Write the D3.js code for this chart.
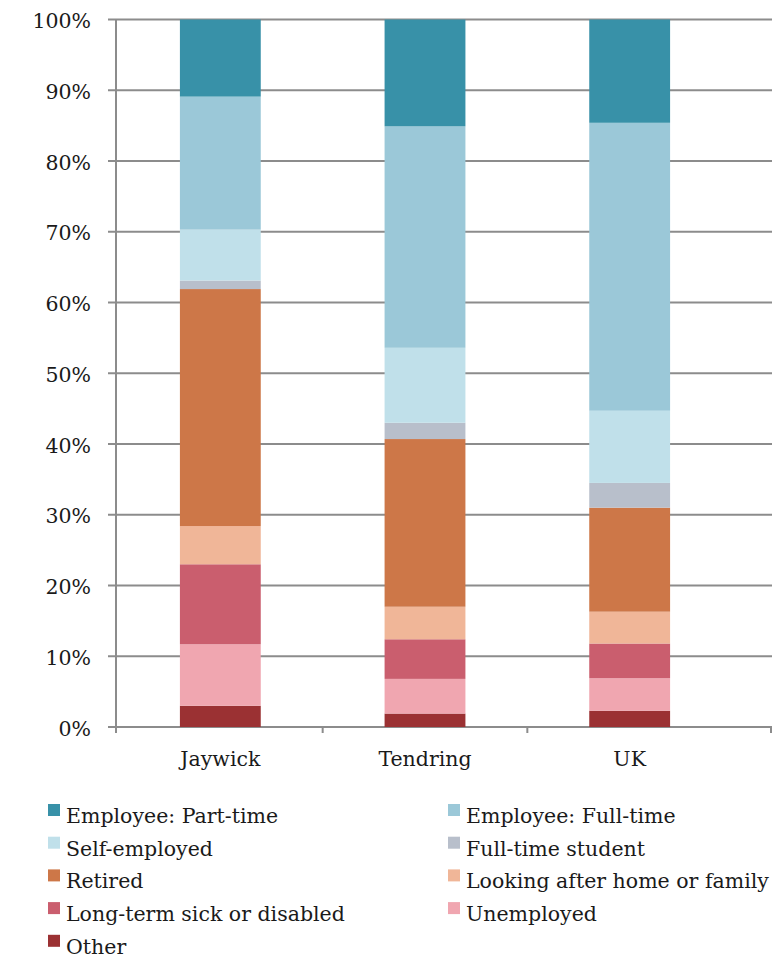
<!DOCTYPE html>
<html>
<head>
<meta charset="utf-8">
<script src="https://cdn.jsdelivr.net/npm/d3@7"></script>
<style>
  html, body { margin: 0; padding: 0; background: #fff; }
  svg { display: block; }
  text { font-family: "DejaVu Serif", "Liberation Serif", serif; fill: #1a1a1a; }
</style>
</head>
<body>
<svg id="chart" width="776" height="958"></svg>
<script>
// ---- data ----
const categories = ["Jaywick", "Tendring", "UK"];
const seriesNames = [
  "Other",
  "Unemployed",
  "Long-term sick or disabled",
  "Looking after home or family",
  "Retired",
  "Full-time student",
  "Self-employed",
  "Employee: Full-time",
  "Employee: Part-time"
];
const other        = [3.0, 1.9, 2.3];
const unemployed   = [8.7, 4.9, 4.6];
const longTermSick = [11.3, 5.6, 4.9];
const lookingAfter = [5.4, 4.6, 4.5];
const retired      = [33.5, 23.7, 14.7];
const student      = [1.2, 2.3, 3.5];
const selfEmployed = [7.2, 10.6, 10.2];
const fullTime     = [18.8, 31.3, 40.7];
const partTime     = [10.9, 15.1, 14.6];
const seriesColors = ["#9b3133", "#f0a6b0", "#ca5e6e", "#f0b698", "#cd7748", "#b8bfcb", "#c0e0ea", "#9bc8d8", "#3891a8"];
const yTicks = [0, 10, 20, 30, 40, 50, 60, 70, 80, 90, 100];
const legendOrder = [
  "Employee: Part-time", "Employee: Full-time",
  "Self-employed", "Full-time student",
  "Retired", "Looking after home or family",
  "Long-term sick or disabled", "Unemployed",
  "Other"
];

const seriesValues = [other, unemployed, longTermSick, lookingAfter, retired, student, selfEmployed, fullTime, partTime];
const table = categories.map((c, i) => {
  const row = { category: c };
  seriesNames.forEach((s, j) => row[s] = seriesValues[j][i]);
  return row;
});

// ---- layout ----
const svg = d3.select("#chart");
const axisX = 116, axisEnd = 772;
const y = d3.scaleLinear().domain([0, 100]).range([727, 19.5]);
const x = d3.scaleBand().domain(categories).range([118, 732]).padding(0);
const barW = x.bandwidth() * 0.395;
const color = d3.scaleOrdinal().domain(seriesNames).range(seriesColors);
const gridColor = "#8c8c8c";

// gridlines (behind bars)
svg.append("g").selectAll("line").data(yTicks).join("line")
  .attr("x1", axisX - 8).attr("x2", axisEnd)
  .attr("y1", d => y(d)).attr("y2", d => y(d))
  .attr("stroke", gridColor).attr("stroke-width", 2);

// y labels
svg.append("g").selectAll("text").data(yTicks).join("text")
  .attr("x", axisX - 25).attr("y", d => y(d)).attr("dy", "0.42em")
  .attr("text-anchor", "end").attr("font-size", 20.5)
  .text(d => d + "%");

// vertical axis line
svg.append("line")
  .attr("x1", axisX).attr("x2", axisX)
  .attr("y1", y(100)).attr("y2", y(0) + 6)
  .attr("stroke", gridColor).attr("stroke-width", 2);

// bottom ticks between categories + end
const xTickPos = categories.slice(1).map(c => x(c)).concat([axisEnd - 1]);
svg.append("g").selectAll("line").data(xTickPos).join("line")
  .attr("x1", d => d).attr("x2", d => d)
  .attr("y1", y(0)).attr("y2", y(0) + 6)
  .attr("stroke", gridColor).attr("stroke-width", 2);

// stacked bars
const stack = d3.stack().keys(seriesNames)(table);
svg.append("g").selectAll("g").data(stack).join("g")
  .attr("fill", d => color(d.key))
  .selectAll("rect").data(d => d).join("rect")
  .attr("x", d => x(d.data.category) + (x.bandwidth() - barW) / 2)
  .attr("width", barW)
  .attr("y", d => y(d[1]))
  .attr("height", d => y(d[0]) - y(d[1]));

// category labels
svg.append("g").selectAll("text").data(categories).join("text")
  .attr("x", d => x(d) + x.bandwidth() / 2).attr("y", 766)
  .attr("text-anchor", "middle").attr("font-size", 20.5)
  .text(d => d);

// legend
const colX = [48, 448];
const leg = svg.append("g").selectAll("g").data(legendOrder).join("g")
  .attr("transform", (d, i) => `translate(${colX[i % 2]},${823 + 32.7 * Math.floor(i / 2)})`);
leg.append("rect").attr("x", 0).attr("y", -19).attr("width", 12).attr("height", 12)
  .attr("fill", d => color(d));
leg.append("text").attr("x", 18).attr("y", 0).attr("font-size", 20.5).text(d => d);
</script>
</body>
</html>
